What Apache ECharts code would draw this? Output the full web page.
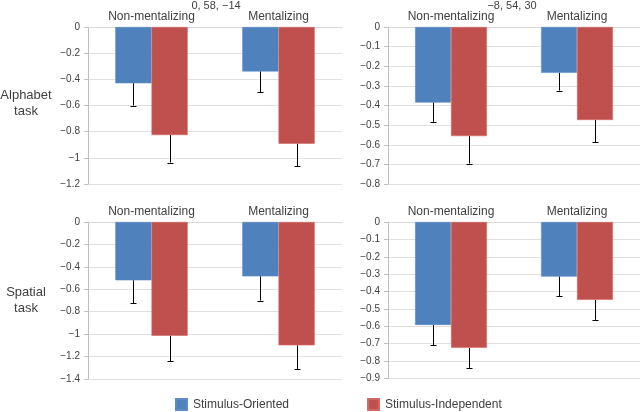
<!DOCTYPE html>
<html>
<head>
<meta charset="utf-8">
<script src="https://cdn.jsdelivr.net/npm/echarts@6/dist/echarts.min.js"></script>
<style>html,body{margin:0;padding:0;background:#fff}#c{width:640px;height:412px}</style>
</head>
<body>
<div id="c"></div>
<script>
var categories = ['Non-mentalizing', 'Mentalizing'];
var seriesNames = ['Stimulus-Oriented', 'Stimulus-Independent'];
var panelTitles = ['0, 58, \u221214', '\u22128, 54, 30'];
var rowLabels = ['Alphabet\ntask', 'Spatial\ntask'];

// Alphabet task, 0,58,-14
var alpha1Oriented = [-0.43, -0.34];
var alpha1OrientedErr = [0.17, 0.16];
var alpha1Independent = [-0.826, -0.893];
var alpha1IndependentErr = [0.21, 0.17];
// Alphabet task, -8,54,30
var alpha2Oriented = [-0.385, -0.234];
var alpha2OrientedErr = [0.098, 0.09];
var alpha2Independent = [-0.556, -0.474];
var alpha2IndependentErr = [0.14, 0.114];
// Spatial task, 0,58,-14
var spatial1Oriented = [-0.52, -0.485];
var spatial1OrientedErr = [0.206, 0.215];
var spatial1Independent = [-1.015, -1.10];
var spatial1IndependentErr = [0.225, 0.21];
// Spatial task, -8,54,30
var spatial2Oriented = [-0.592, -0.314];
var spatial2OrientedErr = [0.118, 0.113];
var spatial2Independent = [-0.724, -0.448];
var spatial2IndependentErr = [0.115, 0.115];

// axis ranges
var yMins = [-1.2, -0.8, -1.4, -0.9];
var yIntervals = [0.2, 0.1, 0.2, 0.1];

var panels = [
  [alpha1Oriented, alpha1OrientedErr, alpha1Independent, alpha1IndependentErr],
  [alpha2Oriented, alpha2OrientedErr, alpha2Independent, alpha2IndependentErr],
  [spatial1Oriented, spatial1OrientedErr, spatial1Independent, spatial1IndependentErr],
  [spatial2Oriented, spatial2OrientedErr, spatial2Independent, spatial2IndependentErr]
];

var colors = ['#4F81BD', '#C0504D'];
var textColor = '#404040';
var font = 'Liberation Sans, Arial, sans-serif';

var gridPos = [
  {left: 88, top: 27, width: 254, height: 157},
  {left: 388, top: 27, width: 252, height: 157},
  {left: 88, top: 222, width: 254, height: 157},
  {left: 388, top: 222, width: 252, height: 156.5}
];

var grids = [], xAxes = [], yAxes = [], series = [];
var CAT_GAP = 0.43;
var half = (1 - CAT_GAP) / 2; // bar width fraction of band

function fmt(v) {
  var s = String(Math.round(v * 10) / 10);
  return s.replace('-', '\u2212');
}

panels.forEach(function (p, i) {
  grids.push(Object.assign({containLabel: false}, gridPos[i]));
  xAxes.push({
    type: 'category', gridIndex: i, data: categories, position: 'top',
    axisLine: {show: true, lineStyle: {color: '#d9d9d9'}},
    axisTick: {show: false},
    axisLabel: {color: textColor, fontFamily: font, fontSize: 12, margin: 4}
  });
  yAxes.push({
    type: 'value', gridIndex: i, min: yMins[i], max: 0, interval: yIntervals[i],
    axisLine: {show: true, lineStyle: {color: '#bfbfbf'}},
    axisTick: {show: true, length: 4, lineStyle: {color: '#bfbfbf'}},
    splitLine: {show: true, lineStyle: {color: '#e0e0e0'}},
    axisLabel: {color: textColor, fontFamily: font, fontSize: 10, margin: 8, formatter: fmt}
  });
  [0, 1].forEach(function (s) {
    var vals = p[s * 2], errs = p[s * 2 + 1];
    series.push({
      name: seriesNames[s], type: 'bar', xAxisIndex: i, yAxisIndex: i,
      data: vals, barGap: '0%', barCategoryGap: (CAT_GAP * 100) + '%',
      itemStyle: {color: colors[s], borderColor: s === 0 ? '#5b8cc6' : '#d06a67', borderWidth: 0.6},
      emphasis: {disabled: true}, animation: false, z: 2
    });
    series.push({
      name: seriesNames[s], type: 'custom', xAxisIndex: i, yAxisIndex: i,
      data: vals.map(function (v, k) { return [k, v, v - errs[k]]; }),
      renderItem: function (params, api) {
        var band = api.size([1, 0])[0];
        var off = (s === 0 ? -1 : 1) * band * half / 2;
        var a = api.coord([api.value(0), api.value(1)]);
        var b = api.coord([api.value(0), api.value(2)]);
        var x = Math.round(a[0] + off) + 0.5;
        return {
          type: 'group',
          children: [
            {type: 'line', shape: {x1: x, y1: a[1], x2: x, y2: b[1]}, style: {stroke: '#000', lineWidth: 1}},
            {type: 'line', shape: {x1: x - 3, y1: Math.round(b[1]) + 0.5, x2: x + 3, y2: Math.round(b[1]) + 0.5}, style: {stroke: '#000', lineWidth: 1}}
          ]
        };
      },
      z: 5, silent: true, animation: false
    });
  });
});

var option = {
  backgroundColor: '#fff',
  animation: false,
  textStyle: {fontFamily: font},
  title: [
    {text: panelTitles[0], left: 216, top: 0, padding: 0, textAlign: 'center', textStyle: {fontSize: 11, fontWeight: 'normal', color: textColor, fontFamily: font}},
    {text: panelTitles[1], left: 512, top: 0, padding: 0, textAlign: 'center', textStyle: {fontSize: 11, fontWeight: 'normal', color: textColor, fontFamily: font}},
    {text: rowLabels[0], left: 26, top: 87, padding: 0, textAlign: 'center', textStyle: {fontSize: 13, fontWeight: 'normal', color: textColor, fontFamily: font, lineHeight: 16}},
    {text: rowLabels[1], left: 26, top: 284, padding: 0, textAlign: 'center', textStyle: {fontSize: 13, fontWeight: 'normal', color: textColor, fontFamily: font, lineHeight: 16}}
  ],
  legend: {
    data: seriesNames, left: 175, top: 398, padding: 0, itemWidth: 11, itemHeight: 11, itemGap: 78,
    icon: 'rect',
    textStyle: {color: textColor, fontSize: 12, fontFamily: font, padding: [0, 0, 0, 1]}
  },
  grid: grids, xAxis: xAxes, yAxis: yAxes, series: series
};

var chart = echarts.init(document.getElementById('c'), null, {renderer: 'canvas'});
chart.setOption(option);
</script>
</body>
</html>
